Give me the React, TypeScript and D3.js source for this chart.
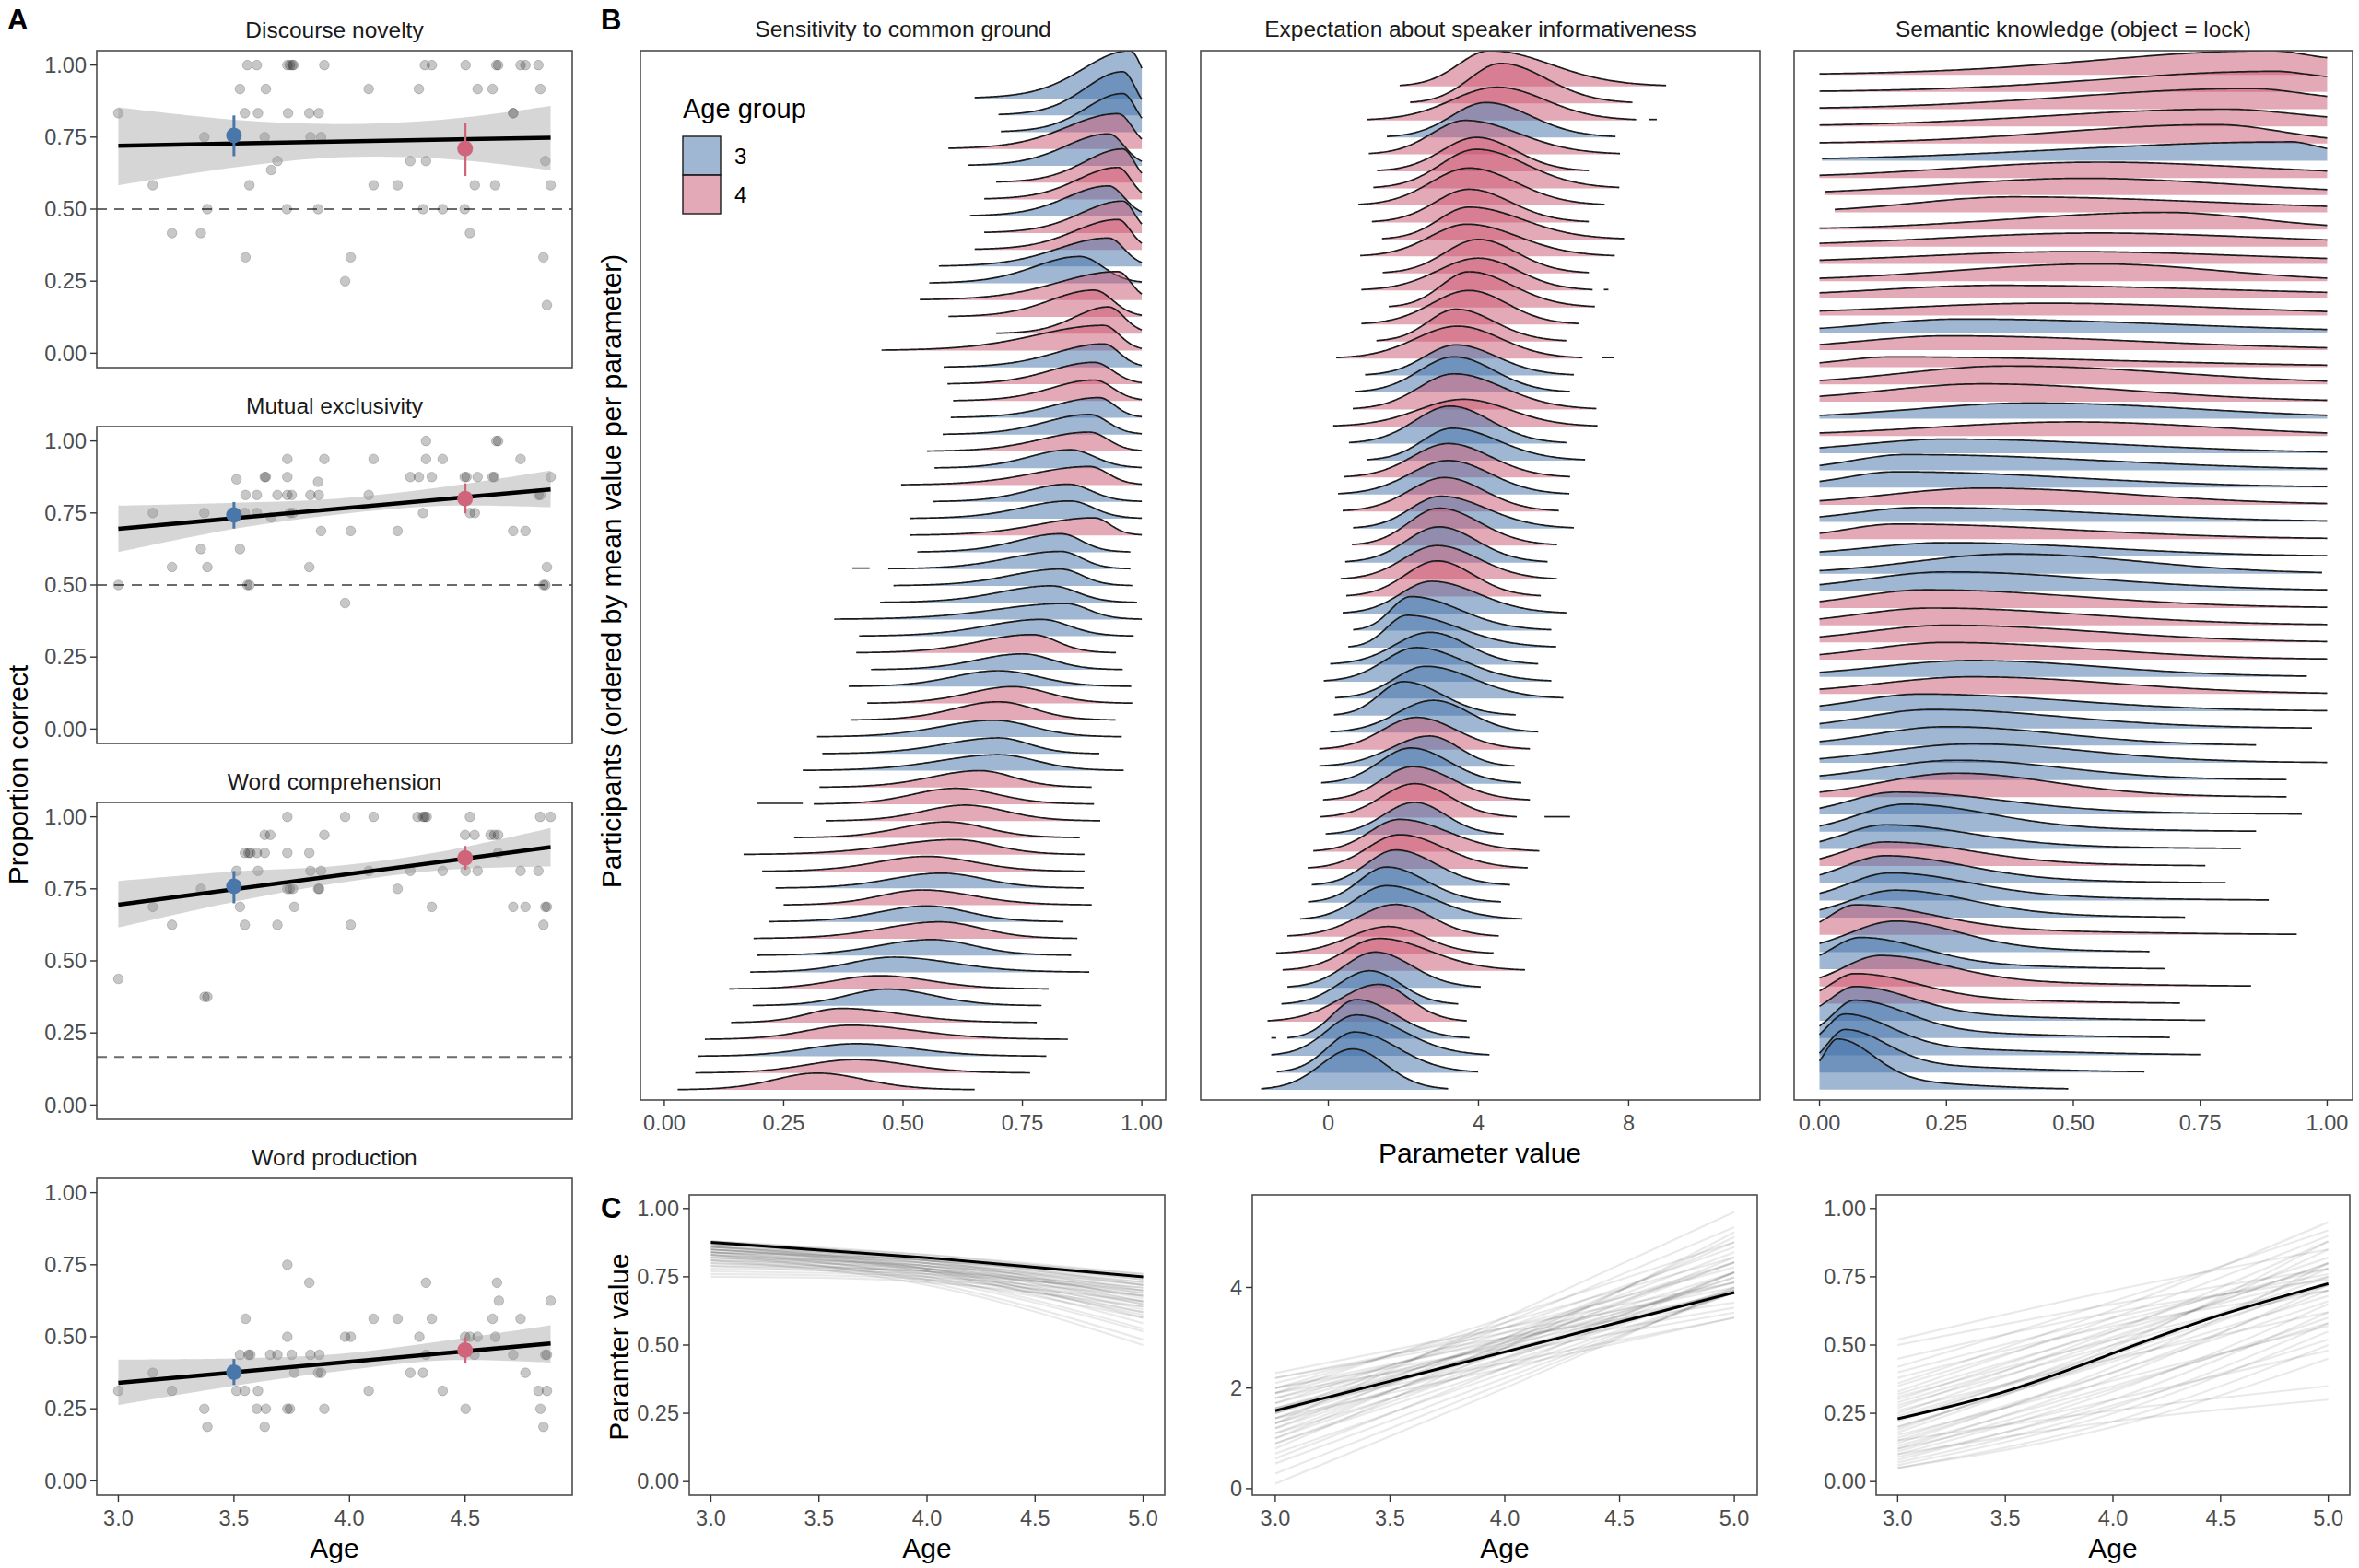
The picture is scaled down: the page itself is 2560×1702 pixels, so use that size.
import React from "react";
import * as d3 from "d3";

const FONT = "'Liberation Sans', Arial, Helvetica, sans-serif";
const MEAN_BLUE = "#4a77a9";
const MEAN_PINK = "#d0647b";
const RIDGE_BLUE = "#3f70a8";
const RIDGE_PINK = "#c9546d";
const TICK_COL = "#4d4d4d";
const TICK_FS = 23.5;
const STRIP_FS = 24.5;
const TITLE_FS = 30;

// ---------------- Panel A data ----------------
const A_TITLES = ["Discourse novelty", "Mutual exclusivity", "Word comprehension", "Word production"];
const A_CHANCE = [0.5, 0.5, 0.1667, NaN];
const A_X_TICKS = [3.0, 3.5, 4.0, 4.5];
const A_Y_TICKS = [0, 0.25, 0.5, 0.75, 1];

// [value, ages of children with that value]
const discourseNovelty: [number, number[]][] = [
  [1.0, [3.558, 3.599, 3.731, 3.742, 3.752, 3.758, 3.891, 4.326, 4.356, 4.502, 4.635, 4.643, 4.74, 4.761, 4.817]],
  [0.917, [3.526, 3.638, 4.083, 4.3, 4.554, 4.619, 4.826]],
  [0.833, [3.0, 3.547, 3.604, 3.734, 3.826, 3.867, 4.708, 4.708]],
  [0.75, [3.372, 3.633, 3.831, 3.877]],
  [0.667, [3.688, 4.263, 4.331, 4.847]],
  [0.636, [3.661]],
  [0.583, [3.149, 3.567, 4.104, 4.208, 4.542, 4.63, 4.87]],
  [0.5, [3.385, 3.729, 3.864, 4.318, 4.403, 4.498]],
  [0.417, [3.232, 3.357, 4.521]],
  [0.333, [3.55, 4.005, 4.839]],
  [0.25, [3.981]],
  [0.167, [4.854]],
];
const mutualExclusivity: [number, number[]][] = [
  [1.0, [4.331, 4.635, 4.643]],
  [0.9375, [3.731, 3.891, 4.104, 4.331, 4.403, 4.74]],
  [0.875, [3.633, 3.638, 3.731, 4.263, 4.3, 4.356, 4.498, 4.506, 4.554, 4.619, 4.627, 4.87]],
  [0.867, [3.511]],
  [0.858, [3.864]],
  [0.8125, [3.55, 3.599, 3.688, 3.731, 3.75, 3.831, 3.867, 4.083, 4.817, 4.826]],
  [0.75, [3.149, 3.372, 3.547, 3.599, 3.742, 3.755, 4.318, 4.521, 4.542]],
  [0.735, [3.661]],
  [0.6875, [3.877, 4.005, 4.208, 4.708, 4.761]],
  [0.625, [3.357, 3.526]],
  [0.5625, [3.232, 3.385, 3.826, 4.854]],
  [0.5, [3.0, 3.558, 3.567, 4.839, 4.847]],
  [0.4375, [3.981]],
];
const wordComprehension: [number, number[]][] = [
  [1.0, [3.731, 3.981, 4.104, 4.294, 4.318, 4.326, 4.334, 4.521, 4.825, 4.87]],
  [0.9375, [3.633, 3.657, 3.891, 4.5, 4.541, 4.61, 4.627, 4.643]],
  [0.875, [3.547, 3.563, 3.571, 3.599, 3.633, 3.731, 3.826, 4.643]],
  [0.8125, [3.511, 3.604, 3.831, 3.877, 4.083, 4.263, 4.403, 4.502, 4.554, 4.74, 4.817]],
  [0.75, [3.357, 3.731, 3.742, 3.755, 3.864, 3.869, 4.208]],
  [0.6875, [3.149, 3.526, 3.761, 4.356, 4.708, 4.761, 4.847, 4.854]],
  [0.625, [3.232, 3.547, 3.688, 4.005, 4.839]],
  [0.4375, [3.0]],
  [0.375, [3.373, 3.385]],
];
const wordProduction: [number, number[]][] = [
  [0.75, [3.731]],
  [0.6875, [3.826, 4.331, 4.638]],
  [0.625, [4.646, 4.87]],
  [0.5625, [3.55, 4.104, 4.208, 4.356, 4.619, 4.74]],
  [0.5, [3.731, 3.981, 4.005, 4.302, 4.5, 4.521, 4.554, 4.631]],
  [0.4375, [3.526, 3.563, 3.571, 3.657, 3.688, 3.75, 3.831, 3.869, 4.331, 4.541, 4.708, 4.847, 4.854]],
  [0.375, [3.149, 3.761, 3.864, 3.877, 4.263, 4.318, 4.761]],
  [0.3125, [3.0, 3.232, 3.511, 3.547, 3.604, 4.083, 4.403, 4.817, 4.854]],
  [0.25, [3.372, 3.599, 3.638, 3.731, 3.742, 3.891, 4.502, 4.826]],
  [0.1875, [3.385, 3.633, 4.839]],
];
const A_POINTS = [discourseNovelty, mutualExclusivity, wordComprehension, wordProduction];

// regression line at ages 3.0 and 4.87
const A_FIT_AGES = [3.0, 4.87];
const A_FIT = [[0.72, 0.748], [0.695, 0.832], [0.695, 0.895], [0.34, 0.477]];
// confidence band
const A_BAND_AGES = [3.0, 3.5, 3.95, 4.4, 4.87];
const A_BAND_LO = [
  [0.583, 0.645, 0.68, 0.675, 0.635],
  [0.614, 0.695, 0.745, 0.775, 0.77],
  [0.616, 0.705, 0.77, 0.815, 0.828],
  [0.263, 0.33, 0.38, 0.418, 0.41],
];
const A_BAND_HI = [
  [0.853, 0.81, 0.795, 0.81, 0.858],
  [0.775, 0.785, 0.8, 0.84, 0.897],
  [0.777, 0.81, 0.83, 0.88, 0.961],
  [0.421, 0.425, 0.44, 0.485, 0.54],
];
// group means (age 3.5 = 3-year-olds, 4.5 = 4-year-olds)
const A_MEAN_AGES = [3.5, 4.5];
const A_MEAN = [[0.756, 0.71], [0.743, 0.8], [0.759, 0.857], [0.377, 0.454]];
const A_MEAN_LO = [[0.684, 0.615], [0.696, 0.749], [0.7, 0.816], [0.333, 0.407]];
const A_MEAN_HI = [[0.825, 0.798], [0.788, 0.853], [0.812, 0.899], [0.423, 0.498]];

// ---------------- Panel B data ----------------
// [age group, lowest value, mode, highest value, peak height (rows), left spread?, right spread?]
const sensitivityRows: number[][] = [
  [3, 0.65, 0.975, 1.06, 2.85], [3, 0.7, 0.96, 1.05, 2.6], [3, 0.705, 0.96, 1.05, 2.3],
  [4, 0.595, 0.95, 1.05, 2.1], [3, 0.635, 0.93, 1.04, 1.9], [4, 0.695, 0.96, 1.04, 2.0],
  [4, 0.67, 0.95, 1.04, 1.9], [3, 0.64, 0.93, 1.04, 1.8], [4, 0.67, 0.96, 1.04, 1.9],
  [4, 0.65, 0.95, 1.04, 1.8], [3, 0.575, 0.93, 1.04, 1.7], [3, 0.555, 0.87, 1.03, 1.6],
  [4, 0.535, 0.95, 1.04, 1.7], [4, 0.595, 0.9, 1.03, 1.6], [4, 0.695, 0.93, 1.04, 1.6],
  [4, 0.455, 0.92, 1.03, 1.5], [3, 0.585, 0.92, 1.03, 1.4], [4, 0.593, 0.9, 1.03, 1.3],
  [4, 0.605, 0.9, 1.03, 1.25], [3, 0.6, 0.91, 1.02, 1.2], [3, 0.583, 0.89, 1.02, 1.2],
  [4, 0.55, 0.89, 1.02, 1.15], [3, 0.566, 0.85, 1.02, 1.1], [4, 0.496, 0.89, 1.02, 1.1],
  [3, 0.563, 0.845, 1.01, 1.05], [3, 0.515, 0.85, 1.01, 1.05], [4, 0.514, 0.9, 1.01, 1.05],
  [3, 0.53, 0.83, 0.976, 1.1], [3, 0.469, 0.83, 0.976, 1.05], [3, 0.48, 0.83, 0.98, 1.0],
  [3, 0.452, 0.81, 0.99, 1.0], [3, 0.356, 0.84, 1.0, 0.95], [3, 0.408, 0.79, 0.983, 1.0],
  [4, 0.402, 0.77, 0.946, 1.1], [3, 0.433, 0.75, 0.96, 0.95], [3, 0.386, 0.7, 0.978, 0.95],
  [4, 0.425, 0.73, 0.98, 1.0], [4, 0.39, 0.7, 0.945, 1.1], [3, 0.32, 0.69, 0.958, 1.0],
  [3, 0.331, 0.7, 0.911, 0.95], [3, 0.29, 0.7, 0.962, 0.95], [4, 0.325, 0.66, 0.895, 1.0],
  [4, 0.313, 0.61, 0.9, 0.95], [4, 0.338, 0.63, 0.913, 0.95], [4, 0.272, 0.59, 0.87, 0.95],
  [4, 0.166, 0.61, 0.88, 0.9], [4, 0.205, 0.55, 0.88, 0.9], [3, 0.233, 0.58, 0.878, 0.9],
  [4, 0.25, 0.54, 0.895, 0.9], [3, 0.22, 0.55, 0.836, 0.95], [4, 0.187, 0.577, 0.865, 1.0],
  [3, 0.195, 0.56, 0.852, 0.95], [3, 0.18, 0.48, 0.89, 0.9], [4, 0.136, 0.45, 0.805, 0.8],
  [3, 0.185, 0.467, 0.79, 1.0], [4, 0.14, 0.37, 0.78, 0.85], [4, 0.085, 0.39, 0.845, 0.85],
  [3, 0.07, 0.4, 0.8, 0.75], [4, 0.065, 0.4, 0.766, 0.8], [4, 0.028, 0.32, 0.65, 1.0],
];
const informativenessRows: number[][] = [
  [4, 1.9, 4.3, 9.0, 2.1], [4, 2.18, 4.6, 8.1, 2.35], [4, 1.03, 4.5, 8.2, 1.95],
  [3, 1.56, 4.2, 7.65, 2.05], [4, 1.08, 3.65, 7.77, 2.0], [4, 1.3, 3.95, 6.94, 2.0],
  [4, 1.2, 3.95, 7.75, 2.3], [4, 0.8, 3.75, 7.36, 2.2], [4, 1.16, 3.75, 6.94, 1.95],
  [4, 1.43, 3.75, 7.88, 1.9], [4, 0.85, 3.7, 7.63, 1.9], [4, 1.45, 4.0, 6.94, 2.0],
  [4, 0.88, 4.0, 7.04, 1.9], [4, 1.61, 3.75, 7.1, 2.1], [4, 0.88, 3.75, 6.67, 2.0],
  [4, 1.28, 3.4, 6.34, 1.9], [4, 0.21, 3.45, 6.77, 1.9], [3, 0.98, 3.4, 6.54, 1.8],
  [3, 0.7, 3.35, 6.44, 2.1], [4, 0.65, 3.35, 7.14, 2.1], [4, 0.13, 3.6, 7.17, 1.6],
  [3, 0.55, 3.25, 6.34, 2.2], [3, 1.03, 3.3, 6.84, 1.9], [4, 0.43, 3.2, 6.44, 2.0],
  [3, 0.26, 3.2, 6.42, 2.0], [4, 0.38, 3.1, 6.14, 2.0], [3, 0.66, 3.0, 6.54, 1.9],
  [4, 0.63, 2.95, 6.09, 2.2], [3, 0.45, 2.95, 5.84, 2.1], [4, 0.33, 2.9, 6.09, 2.0],
  [4, 0.48, 2.9, 5.66, 2.1], [3, 0.38, 2.75, 6.34, 1.9], [3, 0.66, 2.2, 5.94, 2.0],
  [3, 0.53, 2.1, 6.07, 1.9], [3, 0.05, 2.7, 5.59, 1.9], [3, -0.12, 2.35, 5.94, 2.0],
  [3, 0.18, 2.6, 6.26, 1.9], [3, 0.15, 2.0, 4.99, 2.0], [3, 0.05, 2.8, 5.59, 1.9],
  [4, -0.24, 2.35, 5.37, 1.9], [3, -0.24, 2.7, 4.96, 1.8], [3, -0.19, 2.2, 5.14, 2.1],
  [4, -0.14, 2.25, 5.37, 2.0], [4, -0.22, 2.3, 5.02, 2.0], [3, -0.07, 2.3, 4.67, 1.9],
  [4, -0.4, 1.9, 5.62, 1.9], [4, -0.55, 1.9, 5.31, 2.0], [3, -0.44, 1.8, 4.84, 2.1],
  [3, -0.54, 1.55, 4.6, 2.1], [3, -0.75, 1.55, 5.17, 2.0], [4, -1.09, 1.8, 4.54, 1.9],
  [4, -1.39, 1.6, 4.4, 1.6], [4, -1.22, 1.35, 5.24, 1.9], [3, -1.09, 1.25, 4.06, 2.1],
  [3, -1.25, 1.1, 3.46, 2.0], [4, -1.62, 1.35, 3.69, 2.2], [3, -1.09, 0.75, 3.76, 2.3],
  [3, -1.52, 0.75, 4.29, 2.4], [3, -1.37, 0.7, 3.99, 2.4], [3, -1.79, 0.65, 3.19, 2.4],
];
const semanticRows: number[][] = [
  [4, 0, 0.89, 1.0, 1.4, 0.33, 0.2], [4, 0, 0.9, 1.0, 1.2, 0.33, 0.25], [4, 0, 0.85, 1.0, 1.2, 0.35, 0.2],
  [4, 0, 0.8, 1.0, 1.0, 0.35, 0.22], [4, 0, 0.78, 1.0, 1.1, 0.3, 0.15], [3, 0.005, 0.93, 1.0, 1.1, 0.45, 0.1],
  [4, 0, 0.55, 1.0, 0.92, 0.3, 0.4], [4, 0.01, 0.52, 1.0, 0.98, 0.3, 0.35], [4, 0.03, 0.38, 1.0, 0.9, 0.2, 0.5],
  [4, 0, 0.68, 1.0, 1.0, 0.3, 0.2], [4, 0, 0.55, 1.0, 0.8, 0.35, 0.45], [4, 0, 0.5, 1.0, 0.72, 0.35, 0.45],
  [4, 0, 0.55, 1.0, 1.0, 0.3, 0.25], [4, 0, 0.35, 1.0, 0.76, 0.3, 0.6], [4, 0, 0.45, 1.0, 0.72, 0.35, 0.4],
  [3, 0, 0.28, 1.0, 0.8, 0.2, 0.45], [4, 0, 0.25, 1.0, 0.82, 0.2, 0.4], [4, 0, 0.14, 1.0, 0.6, 0.12, 0.5],
  [4, 0, 0.37, 1.0, 1.07, 0.22, 0.35], [4, 0, 0.32, 1.0, 1.03, 0.22, 0.3], [3, 0, 0.42, 1.0, 0.92, 0.25, 0.35],
  [4, 0, 0.5, 1.0, 0.82, 0.3, 0.3], [3, 0, 0.25, 1.0, 0.82, 0.2, 0.35], [3, 0, 0.17, 1.0, 0.92, 0.12, 0.4],
  [3, 0, 0.15, 1.0, 0.92, 0.12, 0.35], [4, 0, 0.32, 1.0, 0.97, 0.2, 0.3], [3, 0, 0.2, 1.0, 0.85, 0.15, 0.35],
  [4, 0, 0.15, 1.0, 0.88, 0.12, 0.35], [3, 0, 0.25, 1.0, 0.8, 0.18, 0.3], [3, 0, 0.38, 0.99, 1.15, 0.2, 0.25],
  [3, 0, 0.25, 1.0, 1.1, 0.18, 0.3], [4, 0, 0.21, 1.0, 1.06, 0.16, 0.3], [4, 0, 0.22, 1.0, 1.0, 0.17, 0.3],
  [4, 0, 0.25, 1.0, 1.0, 0.18, 0.3], [4, 0, 0.25, 1.0, 1.0, 0.17, 0.28], [3, 0, 0.3, 0.96, 0.95, 0.2, 0.25],
  [4, 0, 0.3, 1.0, 1.0, 0.2, 0.28], [3, 0, 0.2, 1.0, 1.0, 0.14, 0.28], [3, 0, 0.22, 0.97, 1.1, 0.14, 0.25],
  [3, 0, 0.25, 0.86, 1.1, 0.15, 0.22], [3, 0, 0.3, 1.0, 1.1, 0.18, 0.22], [3, 0, 0.27, 0.92, 1.15, 0.16, 0.2],
  [4, 0, 0.27, 0.92, 1.4, 0.16, 0.18], [3, 0, 0.15, 0.95, 1.3, 0.1, 0.2], [3, 0, 0.17, 0.86, 1.6, 0.1, 0.16],
  [3, 0, 0.13, 0.83, 1.4, 0.09, 0.16], [4, 0, 0.13, 0.76, 1.4, 0.09, 0.16], [3, 0, 0.13, 0.8, 1.6, 0.09, 0.15],
  [3, 0, 0.14, 0.885, 1.6, 0.09, 0.15], [3, 0, 0.15, 0.72, 1.6, 0.1, 0.14], [4, 0, 0.07, 0.94, 1.75, 0.06, 0.15],
  [3, 0, 0.15, 0.65, 1.8, 0.1, 0.12], [3, 0, 0.08, 0.68, 1.85, 0.07, 0.12], [4, 0, 0.12, 0.85, 1.8, 0.08, 0.13],
  [4, 0, 0.07, 0.71, 1.75, 0.06, 0.12], [3, 0, 0.07, 0.76, 2.0, 0.06, 0.11], [3, 0, 0.07, 0.69, 2.2, 0.05, 0.1],
  [3, 0, 0.05, 0.75, 2.4, 0.05, 0.09], [3, 0, 0.05, 0.64, 2.5, 0.045, 0.08], [3, 0, 0.035, 0.49, 2.95, 0.04, 0.07],
];
// isolated density fragments: [row from top, from, to]
const sensitivityFragments = [[28, 0.394, 0.43], [42, 0.195, 0.29]];
const informativenessFragments = [[2, 8.53, 8.75], [12, 7.34, 7.46], [16, 7.29, 7.6], [43, 5.76, 6.44], [56, -1.52, -1.39]];
const semanticFragments: number[][] = [];

const B_TITLES = ["Sensitivity to common ground", "Expectation about speaker informativeness", "Semantic knowledge (object = lock)"];
const B_TICKS = [[0, 0.25, 0.5, 0.75, 1], [0, 4, 8], [0, 0.25, 0.5, 0.75, 1]];

// ---------------- Panel C data ----------------
const C_AGES = [3, 4, 5];
const C_SEM_BLACK_AGES = [3, 3.5, 4, 4.5, 5];
const sensitivityMean = [0.876, 0.82, 0.75];
const informativenessMean = [1.55, 2.72, 3.9];
const semanticMean = [0.23, 0.33, 0.47, 0.61, 0.725];
const sensitivityDraws = [
  [0.87, 0.82, 0.74], [0.86, 0.81, 0.73], [0.88, 0.82, 0.72], [0.85, 0.8, 0.72], [0.84, 0.8, 0.73],
  [0.87, 0.81, 0.7], [0.86, 0.8, 0.69], [0.83, 0.79, 0.71], [0.85, 0.79, 0.68], [0.88, 0.81, 0.67],
  [0.84, 0.78, 0.66], [0.82, 0.79, 0.72], [0.86, 0.79, 0.65], [0.83, 0.78, 0.68], [0.81, 0.78, 0.7],
  [0.85, 0.78, 0.63], [0.87, 0.8, 0.66], [0.8, 0.77, 0.69], [0.84, 0.77, 0.62], [0.82, 0.77, 0.65],
  [0.79, 0.77, 0.71], [0.86, 0.78, 0.6], [0.83, 0.76, 0.61], [0.81, 0.76, 0.64], [0.78, 0.76, 0.7],
  [0.85, 0.77, 0.58], [0.8, 0.75, 0.62], [0.84, 0.75, 0.56], [0.77, 0.75, 0.68], [0.82, 0.74, 0.55],
  [0.79, 0.74, 0.6], [0.76, 0.74, 0.66], [0.83, 0.73, 0.52], [0.75, 0.73, 0.64], [0.81, 0.72, 0.5],
  [0.87, 0.83, 0.76], [0.88, 0.83, 0.75], [0.86, 0.82, 0.76], [0.85, 0.81, 0.75], [0.84, 0.81, 0.74],
];
const informativenessDraws = [
  [1.6, 2.75, 3.9], [1.5, 2.7, 3.95], [1.8, 2.85, 3.9], [1.3, 2.6, 3.95], [2.0, 2.95, 3.9],
  [1.1, 2.5, 4.0], [1.7, 2.9, 4.1], [1.4, 2.8, 4.2], [2.2, 3.1, 4.0], [0.9, 2.4, 3.9],
  [1.9, 3.0, 4.1], [1.2, 2.7, 4.2], [1.6, 2.9, 4.3], [2.3, 3.2, 4.1], [0.7, 2.3, 3.9],
  [1.0, 2.6, 4.3], [1.5, 2.95, 4.5], [2.1, 3.2, 4.4], [0.5, 2.2, 3.9], [1.3, 2.85, 4.5],
  [1.8, 3.1, 4.5], [0.9, 2.55, 4.3], [1.4, 3.0, 4.7], [2.0, 3.3, 4.6], [0.3, 2.1, 3.95],
  [1.1, 2.8, 4.6], [1.7, 3.2, 4.8], [0.6, 2.4, 4.3], [1.2, 3.0, 4.9], [1.9, 3.4, 4.9],
  [0.1, 2.0, 4.0], [1.0, 2.9, 5.0], [1.5, 3.3, 5.2], [0.8, 2.8, 5.1], [1.3, 3.4, 5.5],
  [2.2, 3.0, 3.7], [1.9, 2.7, 3.5], [1.6, 2.5, 3.4], [2.0, 2.8, 3.6], [1.4, 2.4, 3.4],
];
const semanticDraws = [
  [0.23, 0.47, 0.72], [0.2, 0.45, 0.73], [0.28, 0.5, 0.72], [0.15, 0.4, 0.7], [0.32, 0.55, 0.75],
  [0.12, 0.38, 0.72], [0.25, 0.52, 0.8], [0.18, 0.46, 0.78], [0.35, 0.58, 0.78], [0.1, 0.33, 0.65],
  [0.3, 0.56, 0.82], [0.08, 0.3, 0.62], [0.22, 0.5, 0.85], [0.4, 0.6, 0.76], [0.14, 0.42, 0.8],
  [0.06, 0.25, 0.55], [0.27, 0.55, 0.88], [0.45, 0.62, 0.74], [0.16, 0.4, 0.66], [0.2, 0.44, 0.68],
  [0.05, 0.22, 0.5], [0.33, 0.6, 0.9], [0.11, 0.34, 0.6], [0.38, 0.57, 0.7], [0.24, 0.48, 0.75],
  [0.07, 0.27, 0.58], [0.5, 0.65, 0.78], [0.19, 0.49, 0.88], [0.13, 0.35, 0.58], [0.42, 0.66, 0.92],
  [0.09, 0.28, 0.52], [0.29, 0.53, 0.8], [0.17, 0.37, 0.57], [0.36, 0.63, 0.95], [0.05, 0.2, 0.45],
  [0.26, 0.45, 0.62], [0.12, 0.3, 0.48], [0.31, 0.52, 0.7], [0.52, 0.7, 0.85], [0.1, 0.22, 0.3],
  [0.15, 0.26, 0.35],
];
const C_X_TICKS = [3.0, 3.5, 4.0, 4.5, 5.0];

// ---------------- layout ----------------
const A_LEFT = 105, A_RIGHT = 621, A_H = 344;
const A_TOPS = [55, 463, 871, 1279];
const B_BOXES = [[695, 1265], [1303, 1910], [1947, 2553]];
const B_TOP = 55, B_BOTTOM = 1194;
const C_BOXES = [[748, 1264], [1359, 1907], [2036, 2550]];
const C_TOP = 1297, C_BOTTOM = 1623;

const fmt1 = d3.format(".1f");
const fmt2 = d3.format(".2f");

function FacetA({ idx }: { idx: number }) {
  const top = A_TOPS[idx];
  const x = d3.scaleLinear().domain([2.9065, 4.9635]).range([A_LEFT, A_RIGHT]);
  const y = d3.scaleLinear().domain([-0.05, 1.05]).range([top + A_H, top]);
  const pts: [number, number][] = [];
  A_POINTS[idx].forEach(([v, ages]) => ages.forEach((a) => pts.push([a, v])));
  const band = A_BAND_AGES.map((a, k) => [a, A_BAND_LO[idx][k], A_BAND_HI[idx][k]]);
  const area = d3.area<number[]>().x((d) => x(d[0])).y0((d) => y(d[1])).y1((d) => y(d[2])).curve(d3.curveCatmullRom);
  const line = d3.line<number[]>().x((d) => x(d[0])).y((d) => y(d[1]));
  const fit = A_FIT_AGES.map((a, k) => [a, A_FIT[idx][k]]);
  const chance = A_CHANCE[idx];
  return (
    <g>
      <text x={(A_LEFT + A_RIGHT) / 2} y={top - 14} textAnchor="middle" fontSize={STRIP_FS} fill="#1a1a1a">{A_TITLES[idx]}</text>
      {!isNaN(chance) && (
        <line x1={A_LEFT} x2={A_RIGHT} y1={y(chance)} y2={y(chance)} stroke="#6b6b6b" strokeWidth={2} strokeDasharray="11,8" />
      )}
      {pts.map((p, k) => (
        <circle key={k} cx={x(p[0])} cy={y(p[1])} r={5.3} fill="#000" fillOpacity={0.22} stroke="#000" strokeOpacity={0.18} strokeWidth={1} />
      ))}
      <path d={area(band) || ""} fill="#999" fillOpacity={0.4} />
      <path d={line(fit) || ""} stroke="#000" strokeWidth={4.5} fill="none" />
      {A_MEAN_AGES.map((a, k) => {
        const col = k === 0 ? MEAN_BLUE : MEAN_PINK;
        return (
          <g key={k}>
            <line x1={x(a)} x2={x(a)} y1={y(A_MEAN_LO[idx][k])} y2={y(A_MEAN_HI[idx][k])} stroke={col} strokeWidth={3} />
            <circle cx={x(a)} cy={y(A_MEAN[idx][k])} r={8.5} fill={col} />
          </g>
        );
      })}
      <rect x={A_LEFT} y={top} width={A_RIGHT - A_LEFT} height={A_H} fill="none" stroke="#4d4d4d" strokeWidth={1.6} />
      {A_Y_TICKS.map((t) => (
        <g key={t}>
          <line x1={A_LEFT - 7} x2={A_LEFT} y1={y(t)} y2={y(t)} stroke="#333" strokeWidth={1.4} />
          <text x={A_LEFT - 11} y={y(t) + 8.3} textAnchor="end" fontSize={TICK_FS} fill={TICK_COL}>{fmt2(t)}</text>
        </g>
      ))}
      {idx === 3 &&
        A_X_TICKS.map((t) => (
          <g key={t}>
            <line x1={x(t)} x2={x(t)} y1={top + A_H} y2={top + A_H + 7} stroke="#333" strokeWidth={1.4} />
            <text x={x(t)} y={top + A_H + 33} textAnchor="middle" fontSize={TICK_FS} fill={TICK_COL}>{fmt1(t)}</text>
          </g>
        ))}
    </g>
  );
}

function gauss2(v: number, m: number, sl: number, sr: number) {
  const s = v < m ? sl : sr;
  const d = (v - m) / Math.max(s, 1e-4);
  return Math.exp(-0.5 * d * d);
}

function ridgeProfile(r: number[], bounds: number[] | null, div: number) {
  const lo = r[1], m = r[2], hi = r[3];
  const sl = r.length > 5 ? r[5] : (m - lo) / div;
  const sr = r.length > 6 ? r[6] : (hi - m) / div;
  const wl = Math.max((m - lo) / 2.2, 1e-3);
  const wr = Math.max((hi - m) / 2.2, 1e-3);
  const a = bounds ? Math.max(lo, bounds[0]) : lo;
  const b = bounds ? Math.min(hi, bounds[1]) : hi;
  return d3.range(0, 161).map((k) => {
    const v = a + ((b - a) * k) / 160;
    return [v, 0.8 * gauss2(v, m, sl, sr) + 0.2 * gauss2(v, m, wl, wr)];
  });
}

function RidgeFacet({ idx, rows, xDomain, bounds, div, frags, tickFmt }: any) {
  const [x0, x1] = B_BOXES[idx];
  const x = d3.scaleLinear().domain(xDomain).range([x0, x1]);
  const n = rows.length;
  const topExt = d3.max(rows, (r: number[], i: number) => n - 1 - i + r[4]) as number;
  const y = d3.scaleLinear().domain([-0.6, topExt]).range([B_BOTTOM, B_TOP]);
  const spacing = y(0) - y(1);
  const clipId = `ridgeclip${idx}`;
  return (
    <g>
      <defs>
        <clipPath id={clipId}>
          <rect x={x0} y={B_TOP} width={x1 - x0} height={B_BOTTOM - B_TOP} />
        </clipPath>
      </defs>
      <text x={(x0 + x1) / 2} y={B_TOP - 15} textAnchor="middle" fontSize={STRIP_FS} fill="#1a1a1a">{B_TITLES[idx]}</text>
      <g clipPath={`url(#${clipId})`}>
        {rows.map((r: number[], i: number) => {
          const base = y(n - 1 - i);
          const prof = ridgeProfile(r, bounds, div);
          const h = r[4] * spacing;
          const area = d3.area<number[]>().x((d) => x(d[0])).y0(base).y1((d) => base - d[1] * h);
          const line = d3.line<number[]>().x((d) => x(d[0])).y((d) => base - d[1] * h);
          const fr = frags.filter((f: number[]) => f[0] === i);
          return (
            <g key={i}>
              <path d={area(prof) || ""} fill={r[0] === 3 ? RIDGE_BLUE : RIDGE_PINK} fillOpacity={0.5} />
              <path d={line(prof) || ""} fill="none" stroke="#1c1c1c" strokeWidth={1.7} />
              {fr.map((f: number[], k: number) => (
                <line key={k} x1={x(f[1])} x2={x(f[2])} y1={base - 1} y2={base - 1} stroke="#1c1c1c" strokeWidth={1.7} />
              ))}
            </g>
          );
        })}
      </g>
      <rect x={x0} y={B_TOP} width={x1 - x0} height={B_BOTTOM - B_TOP} fill="none" stroke="#4d4d4d" strokeWidth={1.6} />
      {B_TICKS[idx].map((t) => (
        <g key={t}>
          <line x1={x(t)} x2={x(t)} y1={B_BOTTOM} y2={B_BOTTOM + 7} stroke="#333" strokeWidth={1.4} />
          <text x={x(t)} y={B_BOTTOM + 33} textAnchor="middle" fontSize={TICK_FS} fill={TICK_COL}>{tickFmt(t)}</text>
        </g>
      ))}
    </g>
  );
}

function FacetC({ idx, yDomain, yTicks, yFmt, draws, mean, meanAges }: any) {
  const [x0, x1] = C_BOXES[idx];
  const x = d3.scaleLinear().domain([2.9, 5.1]).range([x0, x1]);
  const y = d3.scaleLinear().domain(yDomain).range([C_BOTTOM, C_TOP]);
  const line = d3.line<number[]>().x((d) => x(d[0])).y((d) => y(d[1])).curve(d3.curveNatural);
  return (
    <g>
      {draws.map((dr: number[], k: number) => (
        <path key={k} d={line(C_AGES.map((a, j) => [a, dr[j]])) || ""} fill="none" stroke="#000" strokeOpacity={0.085} strokeWidth={2.2} />
      ))}
      <path d={line(meanAges.map((a: number, j: number) => [a, mean[j]])) || ""} fill="none" stroke="#000" strokeWidth={3} />
      <rect x={x0} y={C_TOP} width={x1 - x0} height={C_BOTTOM - C_TOP} fill="none" stroke="#4d4d4d" strokeWidth={1.6} />
      {yTicks.map((t: number) => (
        <g key={t}>
          <line x1={x0 - 7} x2={x0} y1={y(t)} y2={y(t)} stroke="#333" strokeWidth={1.4} />
          <text x={x0 - 11} y={y(t) + 8.3} textAnchor="end" fontSize={TICK_FS} fill={TICK_COL}>{yFmt(t)}</text>
        </g>
      ))}
      {C_X_TICKS.map((t) => (
        <g key={t}>
          <line x1={x(t)} x2={x(t)} y1={C_BOTTOM} y2={C_BOTTOM + 7} stroke="#333" strokeWidth={1.4} />
          <text x={x(t)} y={C_BOTTOM + 33} textAnchor="middle" fontSize={TICK_FS} fill={TICK_COL}>{fmt1(t)}</text>
        </g>
      ))}
      <text x={(x0 + x1) / 2} y={1691} textAnchor="middle" fontSize={TITLE_FS} fill="#000">Age</text>
    </g>
  );
}

export default function App() {
  return (
    <svg
      width={2560}
      height={1702}
      viewBox="0 0 2560 1702"
      style={{ position: "absolute", left: 0, top: 0, background: "#fff" }}
      fontFamily={FONT}
    >
      <rect width={2560} height={1702} fill="#fff" />
      {/* Panel A */}
      <text x={8} y={32} fontSize={31} fontWeight="bold">A</text>
      {A_TITLES.map((_, i) => (
        <FacetA key={i} idx={i} />
      ))}
      <text transform={`translate(30,841) rotate(-90)`} textAnchor="middle" fontSize={TITLE_FS} fill="#000">Proportion correct</text>
      <text x={(A_LEFT + A_RIGHT) / 2} y={1691} textAnchor="middle" fontSize={TITLE_FS} fill="#000">Age</text>

      {/* Panel B */}
      <text x={652} y={32} fontSize={31} fontWeight="bold">B</text>
      <RidgeFacet idx={0} rows={sensitivityRows} xDomain={[-0.05, 1.05]} bounds={[0, 1]} div={3.5} frags={sensitivityFragments} tickFmt={fmt2} />
      <RidgeFacet idx={1} rows={informativenessRows} xDomain={[-3.4, 11.5]} bounds={null} div={3.0} frags={informativenessFragments} tickFmt={d3.format("d")} />
      <RidgeFacet idx={2} rows={semanticRows} xDomain={[-0.05, 1.05]} bounds={[0, 1]} div={3.0} frags={semanticFragments} tickFmt={fmt2} />
      <text transform={`translate(674,620) rotate(-90)`} textAnchor="middle" fontSize={TITLE_FS} fill="#000">
        Participants (ordered by mean value per parameter)
      </text>
      <text x={1606} y={1262} textAnchor="middle" fontSize={TITLE_FS} fill="#000">Parameter value</text>
      {/* legend */}
      <text x={741} y={128} fontSize={29} fill="#000">Age group</text>
      <rect x={741} y={148} width={41} height={42} fill={RIDGE_BLUE} fillOpacity={0.5} stroke="#1c1c1c" strokeWidth={1.4} />
      <rect x={741} y={190} width={41} height={42} fill={RIDGE_PINK} fillOpacity={0.5} stroke="#1c1c1c" strokeWidth={1.4} />
      <text x={797} y={178} fontSize={24} fill="#000">3</text>
      <text x={797} y={220} fontSize={24} fill="#000">4</text>

      {/* Panel C */}
      <text x={652} y={1322} fontSize={31} fontWeight="bold">C</text>
      <FacetC idx={0} yDomain={[-0.05, 1.05]} yTicks={[0, 0.25, 0.5, 0.75, 1]} yFmt={fmt2} draws={sensitivityDraws} mean={sensitivityMean} meanAges={C_AGES} />
      <FacetC idx={1} yDomain={[-0.13, 5.84]} yTicks={[0, 2, 4]} yFmt={d3.format("d")} draws={informativenessDraws} mean={informativenessMean} meanAges={C_AGES} />
      <FacetC idx={2} yDomain={[-0.05, 1.05]} yTicks={[0, 0.25, 0.5, 0.75, 1]} yFmt={fmt2} draws={semanticDraws} mean={semanticMean} meanAges={C_SEM_BLACK_AGES} />
      <text transform={`translate(682,1462) rotate(-90)`} textAnchor="middle" fontSize={TITLE_FS} fill="#000">Paramter value</text>
    </svg>
  );
}
